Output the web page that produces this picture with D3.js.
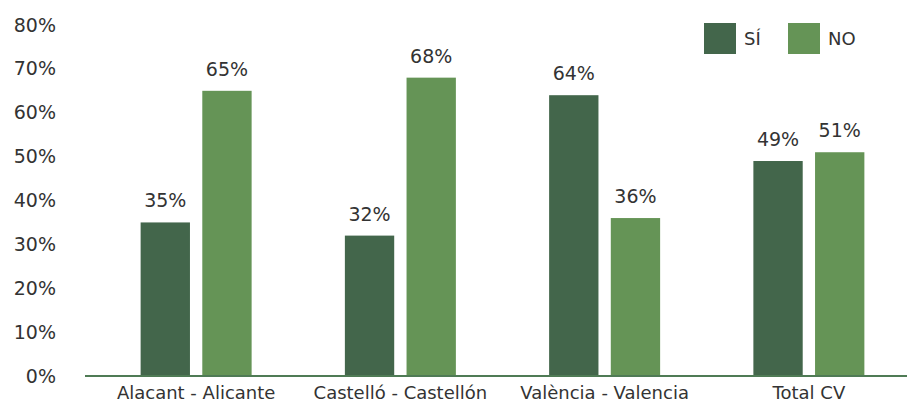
<!DOCTYPE html>
<html>
<head>
<meta charset="utf-8">
<script src="https://cdn.jsdelivr.net/npm/d3@7/dist/d3.min.js"></script>
<style>
  html, body { margin: 0; padding: 0; background: #fff; }
  svg { display: block; font-family: "DejaVu Sans", sans-serif; }
</style>
</head>
<body>
<svg id="chart" width="907" height="403"></svg>
<script>
// Survey results by territory
const categories = ["Alacant - Alicante", "Castelló - Castellón", "València - Valencia", "Total CV"];
const seriesKeys = ["SÍ", "NO"];
const siValues = [35, 32, 64, 49];
const noValues = [65, 68, 36, 51];
const yTicks = [0, 10, 20, 30, 40, 50, 60, 70, 80];

const colors = { "SÍ": "#43664b", "NO": "#659456" };

const rows = categories.map((c, i) => ({ cat: c, "SÍ": siValues[i], "NO": noValues[i] }));

const svg = d3.select("#chart");

const y = d3.scaleLinear().domain([0, 80]).range([376, 25]);
const x0 = d3.scaleBand().domain(categories).range([94, 911]);
const x1 = d3.scaleBand().domain(seriesKeys).range([-55.5, 55.5]).paddingInner(0.2);

// Y axis labels (no axis line)
const yAxis = d3.axisLeft(y).tickValues(yTicks).tickFormat(d => d + "%").tickSize(0).tickPadding(0);
const gy = svg.append("g").attr("transform", "translate(56,0)").call(yAxis);
gy.select(".domain").remove();
gy.selectAll("text").attr("font-size", 19).attr("fill", "#333").attr("font-family", "DejaVu Sans, sans-serif");

// Bars
const groups = svg.append("g").selectAll("g").data(rows).join("g")
  .attr("transform", d => `translate(${x0(d.cat) + x0.bandwidth() / 2},0)`);

groups.selectAll("rect").data(d => seriesKeys.map(k => ({ key: k, value: d[k] }))).join("rect")
  .attr("x", d => x1(d.key))
  .attr("width", x1.bandwidth())
  .attr("y", d => y(d.value))
  .attr("height", d => y(0) - y(d.value))
  .attr("fill", d => colors[d.key]);

// Value labels
groups.selectAll("text.val").data(d => seriesKeys.map(k => ({ key: k, value: d[k] }))).join("text")
  .attr("class", "val")
  .attr("x", d => x1(d.key) + x1.bandwidth() / 2)
  .attr("y", d => y(d.value) - 15)
  .attr("text-anchor", "middle")
  .attr("font-size", 19)
  .attr("fill", "#333")
  .text(d => d.value + "%");

// X axis line and category labels
const xAxis = d3.axisBottom(x0).tickSize(0).tickPadding(10);
const gx = svg.append("g").attr("transform", `translate(0,${y(0)})`).call(xAxis);
gx.select(".domain").remove();
gx.selectAll("text").attr("font-size", 18).attr("fill", "#333").attr("font-family", "DejaVu Sans, sans-serif");
svg.append("line")
  .attr("x1", 85).attr("x2", 907)
  .attr("y1", y(0)).attr("y2", y(0))
  .attr("stroke", "#4f7b55").attr("stroke-width", 2);

// Legend
const legend = svg.append("g").selectAll("g").data(seriesKeys).join("g")
  .attr("transform", (d, i) => `translate(${704 + i * 84},23)`);
legend.append("rect").attr("width", 32).attr("height", 31).attr("fill", d => colors[d]);
legend.append("text").attr("x", 40).attr("y", 22).attr("font-size", 18).attr("fill", "#333").text(d => d);
</script>
</body>
</html>
